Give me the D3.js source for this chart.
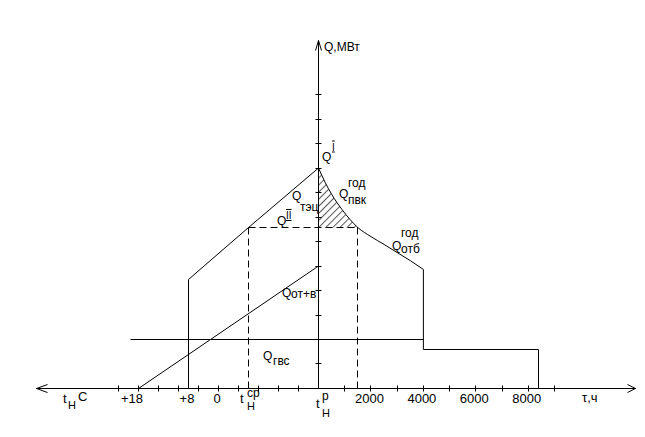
<!DOCTYPE html>
<html><head><meta charset="utf-8">
<script src="https://cdn.jsdelivr.net/npm/d3@7"></script>
<style>
body{margin:0;background:#fff;}
svg text{font-family:"Liberation Sans",Arial,sans-serif;fill:#000;}
</style></head>
<body><svg id="c" width="645" height="437"></svg>
<script>
// ---- data (schematic units) ----
// left part: outdoor temperature positions in axis tick units (t_p at 0)
const leftTicks = [-10,-9,-8,-7,-6,-5,-4,-3,-2,-1];
const tempLabelPos = [-9.3, -6.55, -5.05];
const tempLabelText = ["+18", "+8", "0"];
const tCp = -3.5, tP = 0, t8 = -6.5, t18 = -9, gvsStart = -9.4;
// right part: hours
const tauTicks = [1000,2000,3000,4000,5000,6000,7000,8000,9000];
const tauLabels = [2000,4000,6000,8000];
const qTicks = [1,2,3,4,5,6,7,8,9,10,11,12];
// Q_тэц line (temperature pos -> Q)
const tecX = [t8, tCp, tP];
const tecQ = [4.45, 6.57, 9.0];
// Q_от+в line
const otvX = [t18, tP];
const otvQ = [0, 5.0];
// Q_гвс
const qGvsWinter = 2.0, qGvsSummer = 1.6;
const tauHeatEnd = 4000, tauYearEnd = 8400, tauPvk = 1500;
const qII = 6.57;
// annual curve Q_отб
const curveTau = [0,250,500,900,1200,1500,2000,2500,3000,3500,4000];
const curveQ   = [9.0,8.42,7.93,7.3,6.9,6.57,6.2,5.88,5.55,5.22,4.86];

// ---- scales ----
const xL = d3.scaleLinear().domain([-10,0]).range([118,318]);
const xR = d3.scaleLinear().domain([0,9000]).range([318,554]);
const y = d3.scaleLinear().domain([0,12]).range([388,94]);

const svg = d3.select("#c");
const root = svg.append("g").attr("transform","translate(0.5,0.5)");

// hatch pattern
const defs = svg.append("defs");
const pat = defs.append("pattern").attr("id","hatch").attr("patternUnits","userSpaceOnUse")
  .attr("width",5).attr("height",5).attr("patternTransform","rotate(45)");
pat.append("line").attr("x1",0).attr("y1",0).attr("x2",0).attr("y2",5).attr("stroke","#000").attr("stroke-width",1.3);

const curvePts = curveTau.map((t,i)=>[t,curveQ[i]]);
const hatchPts = curvePts.filter(d=>d[0]<=tauPvk);
root.append("path").datum(hatchPts)
  .attr("d", d3.area().x(d=>xR(d[0])).y0(y(qII)).y1(d=>y(d[1])).curve(d3.curveMonotoneX))
  .attr("fill","url(#hatch)").attr("stroke","none");

const g = root.append("g").attr("stroke","#000").attr("fill","none").attr("stroke-width",1);

// axes
const y0 = y(0), x0 = xR(0);
g.append("line").attr("x1",36).attr("x2",635).attr("y1",y0).attr("y2",y0);
g.append("path").attr("d",`M47,${y0-4}L36,${y0}L47,${y0+4}`);
g.append("path").attr("d",`M627,${y0-4}L635,${y0}L627,${y0+4}`);
g.append("line").attr("x1",x0).attr("x2",x0).attr("y1",y0).attr("y2",40);
g.append("path").attr("d",`M${x0-3},50L${x0},40L${x0+3},50`);

// ticks
g.selectAll(".lt").data(leftTicks).join("line")
  .attr("x1",d=>Math.round(xL(d))).attr("x2",d=>Math.round(xL(d))).attr("y1",y0-3).attr("y2",y0+3);
g.selectAll(".rt").data(tauTicks).join("line")
  .attr("x1",d=>Math.round(xR(d))).attr("x2",d=>Math.round(xR(d))).attr("y1",y0-3).attr("y2",y0+3);
g.selectAll(".qt").data(qTicks).join("line")
  .attr("x1",x0-3).attr("x2",x0+3).attr("y1",d=>Math.round(y(d))).attr("y2",d=>Math.round(y(d)));

// Q_тэц line and vertical at +8
const line = d3.line();
g.append("path").attr("d", line([[xL(t8),y0],[xL(t8),y(tecQ[0])]]));
g.append("path").attr("d", line(tecX.map((x,i)=>[xL(x),y(tecQ[i])])));
// Q_от+в
g.append("path").attr("d", line(otvX.map((x,i)=>[xL(x),y(otvQ[i])])));
// Q_гвс
g.append("path").attr("d", line([[xL(gvsStart),y(qGvsWinter)],[xR(tauHeatEnd),y(qGvsWinter)]]));
g.append("path").attr("d", line([[xR(tauHeatEnd),y(curveQ[curveQ.length-1])],[xR(tauHeatEnd),Math.round(y(qGvsSummer))],
  [Math.round(xR(tauYearEnd)),Math.round(y(qGvsSummer))],[Math.round(xR(tauYearEnd)),y0]]));
// annual curve
g.append("path").datum(curvePts)
  .attr("d", d3.line().x(d=>xR(d[0])).y(d=>y(d[1])).curve(d3.curveMonotoneX));
// dashed
const dash = g.append("g").attr("stroke-dasharray","7,4");
dash.append("path").attr("d", line([[xL(tCp),y0],[xL(tCp),Math.round(y(qII))]]));
dash.append("path").attr("d", line([[xL(tCp),Math.round(y(qII))],[Math.round(xR(tauPvk)),Math.round(y(qII))]]));
dash.append("path").attr("d", line([[Math.round(xR(tauPvk)),Math.round(y(qII))],[Math.round(xR(tauPvk)),y0]]));

// ---- text ----
function txt(x,yy,s,size,anchor,deco){
  const t = svg.append("text").attr("x",x).attr("y",yy).attr("font-size",size||13).text(s);
  if(anchor) t.attr("text-anchor",anchor);
  if(deco) t.style("text-decoration",deco);
  return t;
}
// x labels
tempLabelPos.forEach((p,i)=>txt(xL(p),403,tempLabelText[i],13,"middle"));
tauLabels.forEach(d=>txt(xR(d)-1,403,d,13,"middle"));
txt(582,402,"τ,ч",13);
txt(63,403,"t",13); txt(68,409,"Н",11); txt(78,401,"С",13);
txt(240,403,"t",13); txt(247,410,"Н",11); txt(247,397,"ср",12);
txt(316,408,"t",13); txt(322,400,"р",12); txt(322,417,"Н",11);
// y label
txt(x0+6,51,"Q,МВт",12);
// curve labels
txt(x0+4,y(tecQ[2])-7,"Q",12); txt(x0+14,y(tecQ[2])-17,"I",10,null,"overline underline");
txt(277,225,"Q",12); txt(286,219,"II",10,null,"overline underline");
txt(292,200,"Q",12); txt(300,211,"тэц",12);
txt(348,187,"год",12); txt(339,198,"Q",12); txt(348,204,"пвк",12);
txt(401,237,"год",12); txt(392,250,"Q",12); txt(401,253,"отб",12);
txt(282,297,"Q",12); txt(291,298,"от+в",12);
txt(263,360,"Q",12); txt(273,365,"гвс",12);
</script></body></html>
